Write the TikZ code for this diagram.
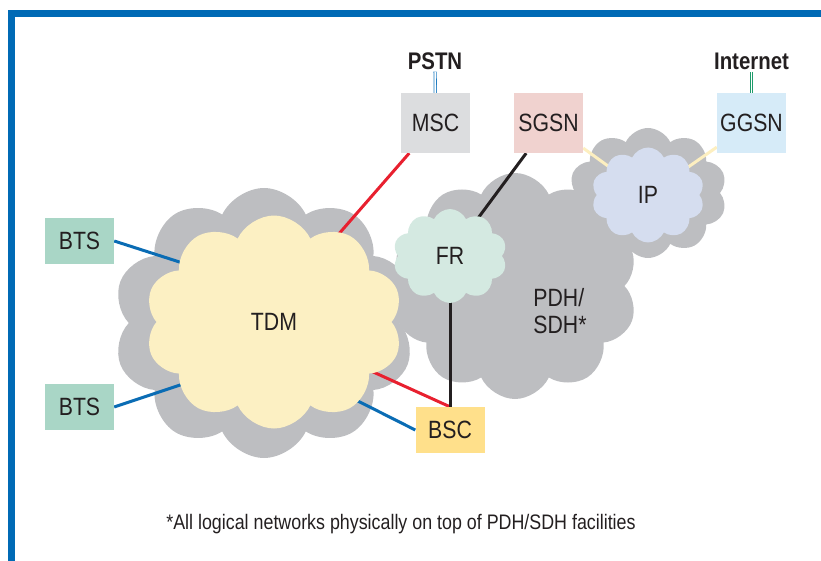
\documentclass[tikz,border=0pt]{standalone}
\usepackage{fontspec}
\setmainfont[FakeStretch=0.85]{Liberation Sans}
\usetikzlibrary{shapes.symbols}
\definecolor{frameblue}{HTML}{006AB5}
\definecolor{cloudgray}{HTML}{BDBEC1}
\definecolor{tdmyellow}{HTML}{FCF0C3}
\definecolor{frgreen}{HTML}{D4E9E1}
\definecolor{ipblue}{HTML}{D5DDEF}
\definecolor{btsgreen}{HTML}{A9D6C6}
\definecolor{mscgray}{HTML}{DCDDDF}
\definecolor{sgsnpink}{HTML}{F0D2CF}
\definecolor{ggsnblue}{HTML}{D6EBF8}
\definecolor{bscyellow}{HTML}{FFE08B}
\definecolor{linkblue}{HTML}{0A6CB4}
\definecolor{linkred}{HTML}{E8202F}
\definecolor{linkblack}{HTML}{231F20}
\definecolor{linkpale}{HTML}{FDEFC0}
\definecolor{pstnblue}{HTML}{1F7CC1}
\definecolor{inetgreen}{HTML}{1E9B6B}
\definecolor{textgray}{HTML}{231F20}
\pgfdeclarelayer{clouds}
\pgfdeclarelayer{links}
\pgfsetlayers{clouds,links,main}

\begin{document}
\begin{tikzpicture}
[x=1pt, y=-1pt,
font=\fontsize{25}{27}\selectfont, text=textgray,
box/.style={minimum width=69pt, minimum height=46pt, inner sep=0pt},
tall box/.style={box, minimum height=60pt},
net/.style={cloud, cloud puffs=10, cloud puff arc=130, inner sep=0pt},
ground/.style={net, fill=cloudgray},
head/.style={font=\fontsize{24}{27}\selectfont\bfseries, inner sep=2pt},
link/.style={line width=3pt},
pale link/.style={linkpale, line width=3pt},
feed/.style={line width=0.8pt, double=white, double distance=1.6pt}]
\useasboundingbox (0,0) rectangle (821,561);
\draw[frameblue, line width=7pt] (11.5,570) -- (11.5,13.7) -- (830,13.7);
\begin{pgfonlayer}{clouds}
\node[ground, minimum width=302pt, minimum height=270pt] (tdm-bg) at (264,323) {};
\node[ground, minimum width=246pt, minimum height=226pt] (pdh) at (515,286) {};
\node[ground, minimum width=158pt, minimum height=130pt] (ip-bg) at (648,193) {};
\end{pgfonlayer}
\node[net, fill=tdmyellow, minimum width=258pt, minimum height=213pt] (tdm) at (274,322) {TDM};
\node[net, fill=frgreen, minimum width=114pt, minimum height=94pt] (fr) at (450,256) {FR};
\node[net, fill=ipblue, minimum width=113pt, minimum height=95pt] (ip) at (648,195) {IP};
\node[align=left] (pdh-text) at (560,311) {PDH/\\SDH*};
\node[box, fill=btsgreen] (bts1) at (79.5,241) {BTS};
\node[box, fill=btsgreen] (bts2) at (79.5,407) {BTS};
\node[tall box, fill=mscgray] (msc) at (435.5,123) {MSC};
\node[tall box, fill=sgsnpink] (sgsn) at (548.5,123) {SGSN};
\node[tall box, fill=ggsnblue] (ggsn) at (751.5,123) {GGSN};
\node[box, fill=bscyellow] (bsc) at (450,430) {BSC};
\node[head] (pstn) at (435,61) {PSTN};
\node[head] (inet) at (751.5,61) {Internet};
\node[font=\fontsize{21}{24}\selectfont] (note) at (401,524) {*All logical networks physically on top of PDH/SDH facilities};
\coordinate (tdm-a) at (200,268.6);
\coordinate (tdm-b) at (310,267);
\coordinate (tdm-c) at (360,366);
\coordinate (tdm-d) at (340,392);
\coordinate (tdm-e) at (190,381.7);
\begin{pgfonlayer}{links}
\draw[link, linkblue] (bts1.east) -- (tdm-a);
\draw[link, linkblue] (bts2.east) -- (tdm-e);
\draw[link, linkred] (msc) -- (tdm-b);
\draw[link, linkred] (tdm-c) -- (bsc.north);
\draw[link, linkblue] (tdm-d) -- (bsc.west);
\draw[link, linkblack] (sgsn) -- (fr.center);
\draw[link, linkblack] (fr.center) -- (bsc);
\draw[pale link] (sgsn) -- (ip.center);
\draw[pale link] (ggsn) -- (ip.center);
\end{pgfonlayer}
\draw[feed, pstnblue] (pstn) -- (msc);
\draw[feed, inetgreen] (inet) -- (ggsn);
\end{tikzpicture}
\end{document}
